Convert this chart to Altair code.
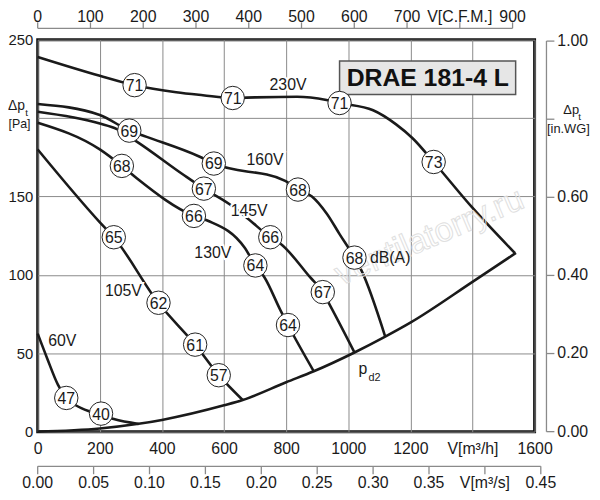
import altair as alt
import pandas as pd

# ---------------- data ----------------
# fan curves: flow V [m3/h] vs total pressure dp_t [Pa]
V230 = [0, 200, 312, 446, 532, 628, 700, 835, 930, 972, 1080, 1154, 1208, 1275, 1399, 1536]
P230 = [239, 227, 221, 216.5, 214.6, 212.8, 213.2, 213.6, 211.5, 209.6, 205, 196, 187, 172, 143, 114]
V160 = [0, 200, 295, 351, 520, 567, 797, 838, 883, 931, 972, 1020, 1042, 1119]
P160 = [209, 202, 192, 188, 175.5, 171, 160, 154.4, 150, 139, 126, 111, 103, 60.6]
V145 = [0, 200, 255, 319, 468, 535, 618, 676, 749, 781, 877, 918, 940, 1020]
P145 = [204, 196.5, 193, 185, 164, 155, 145, 136, 124, 120, 98.5, 89, 81, 50.5]
V130 = [0, 200, 271, 319, 503, 548, 666, 701, 730, 781, 806, 889]
P130 = [197, 180, 169.5, 161.6, 137.6, 134.5, 117.4, 106, 98.5, 77.7, 68, 38.5]
V105 = [0, 198, 245, 389, 507, 583, 660]
P105 = [180, 134, 124, 82, 55.5, 36, 20.2]
V60 = [0, 30, 65, 92, 124, 166, 204, 245, 325]
P60 = [62.5, 47, 30, 21.5, 16.7, 13, 10.8, 8, 4.9]
# dynamic pressure curve p_d2
VPD = [0, 200, 325, 400, 600, 660, 800, 889, 1020, 1119, 1200, 1400, 1540]
PPD = [0, 2, 5, 7.5, 16.8, 20.2, 31.5, 38.5, 50.5, 60.6, 69.5, 95.5, 114]

# sound level markers dB(A)
DB_V = [312, 628, 972, 1275, 295, 567, 838, 1020, 535, 749, 918, 271, 503, 701, 806, 245, 389, 507, 583, 92, 204]
DB_P = [221, 212.8, 209.6, 172, 192, 171, 154.4, 111, 155, 124, 89, 169.5, 137.6, 106, 68, 124, 82.2, 55.5, 36, 21.5, 11.5]
DB_T = ["71", "71", "71", "73", "69", "69", "68", "68", "67", "66", "67", "68", "66", "64", "64",
        "65", "62", "61", "57", "47", "40"]

# voltage labels
VOLT_T = ["230V", "160V", "145V", "130V", "105V", "60V"]
VOLT_V = [806, 732, 681, 564, 276, 79]
VOLT_P = [221, 173, 141, 114, 89.5, 58]

# axes
X_TICKS = [0, 200, 400, 600, 800, 1000, 1200, 1400, 1600]
Y_TICKS = [0, 50, 100, 150, 200, 250]
CFM_TICKS = [0, 100, 200, 300, 400, 500, 600, 700, 800, 900]
CFM_LABELS = ["0", "100", "200", "300", "400", "500", "600", "700", "V[C.F.M.]", "900"]
M3S_TICKS = [0, 0.05, 0.10, 0.15, 0.20, 0.25, 0.30, 0.35, 0.40, 0.45]
M3S_LABELS = ["0.00", "0.05", "0.10", "0.15", "0.20", "0.25", "0.30", "0.35", "V[m³/s]", "0.45"]
INWG_TICKS = [0, 0.2, 0.4, 0.6, 0.8, 1.0]
INWG_LABELS = ["0.00", "0.20", "0.40", "0.60", "", "1.00"]

CFM_TO_M3H = 1.69901
M3S_TO_M3H = 3600.0
INWG_TO_PA = 249.089

FONT = "Liberation Sans"
INK = "#1a1a1a"
AX_GRAY = "#8a8a8a"

# ---------------- tables ----------------
curves = []
for name, vs, ps in [("230V", V230, P230), ("160V", V160, P160), ("145V", V145, P145),
                     ("130V", V130, P130), ("105V", V105, P105), ("60V", V60, P60),
                     ("pd2", VPD, PPD)]:
    for v, p in zip(vs, ps):
        curves.append({"curve": name, "V": v, "P": p})
curves = pd.DataFrame(curves)
dbdf = pd.DataFrame({"V": DB_V, "P": DB_P, "t": DB_T})
voltdf = pd.DataFrame({"V": VOLT_V, "P": VOLT_P, "t": VOLT_T})
cfmdf = pd.DataFrame({"V": [c * CFM_TO_M3H for c in CFM_TICKS], "t": CFM_LABELS})
m3sdf = pd.DataFrame({"V": [m * M3S_TO_M3H for m in M3S_TICKS], "t": M3S_LABELS})
inwgdf = pd.DataFrame({"P": [w * INWG_TO_PA for w in INWG_TICKS], "t": INWG_LABELS})

xs = alt.Scale(domain=[0, 1600], nice=False, zero=False)
ys = alt.Scale(domain=[0, 250], nice=False, zero=False)
xaxis = alt.Axis(values=X_TICKS, title=None, grid=True, gridColor=AX_GRAY, gridWidth=1,
                 domain=False, ticks=False, labelFontSize=16, labelFont=FONT, labelColor=INK,
                 labelPadding=9, labelFlush=False, labelOverlap=False, format="d",
                 labelExpr="datum.value == 1400 ? 'V[m³/h]' : datum.label")
yaxis = alt.Axis(values=Y_TICKS, title=None, grid=True, gridColor=AX_GRAY, gridWidth=1,
                 domain=False, ticks=False, labelFontSize=15, labelFont=FONT, labelColor=INK,
                 labelPadding=5, labelFlush=False, labelOverlap=False, format="d",
                 labelExpr="datum.value == 200 ? '' : datum.label")
X = alt.X("V:Q", scale=xs, axis=xaxis)
Y = alt.Y("P:Q", scale=ys, axis=yaxis)

base_curves = alt.Chart(curves).mark_line(color=INK, strokeWidth=2.6, interpolate="monotone").encode(
    x=X, y=Y, detail="curve:N", order="V:Q")

watermark = alt.Chart(pd.DataFrame({"V": [1262], "P": [124], "t": ["ventilatorry.ru"]})).mark_text(
    font=FONT, fontSize=34, angle=337, fill="#ffffff", fillOpacity=0, stroke="#e0e0e0",
    strokeWidth=1).encode(x=X, y=Y, text="t:N")

box = alt.Chart(pd.DataFrame({"V": [972], "V2": [1539], "P": [236.4], "P2": [215]})).mark_rect(
    fill="#e6e6e6", stroke="#555555", strokeWidth=1.5).encode(
    x=X, x2="V2:Q", y=Y, y2="P2:Q")
box_text = alt.Chart(pd.DataFrame({"V": [1256], "P": [225.6], "t": ["DRAE 181-4 L"]})).mark_text(
    font=FONT, fontSize=25, fontWeight="bold", color="#111111", baseline="middle").encode(
    x=X, y=Y, text="t:N")

circles = alt.Chart(dbdf).mark_point(shape="circle", filled=True, fill="white", stroke="#222222",
                                     strokeWidth=1, size=560, opacity=1).encode(x=X, y=Y)
circle_text = alt.Chart(dbdf).mark_text(font=FONT, fontSize=16, color=INK, baseline="middle",
                                        dy=1).encode(x=X, y=Y, text="t:N")

volt_halo = alt.Chart(voltdf).mark_text(font=FONT, fontSize=16, color="white", stroke="white",
                                        strokeWidth=4, baseline="middle").encode(x=X, y=Y, text="t:N")
volt_text = alt.Chart(voltdf).mark_text(font=FONT, fontSize=16, color=INK, baseline="middle").encode(
    x=X, y=Y, text="t:N")

sub = pd.DataFrame({"V": [1033, 1065], "P": [36.9, 32.5], "t": ["p", "d2"], "fs": [16, 11]})
sub_text = alt.Chart(sub).mark_text(font=FONT, color=INK, align="left", baseline="alphabetic").encode(
    x=X, y=Y, text="t:N", size=alt.Size("fs:Q", scale=None, legend=None))
dba_text = alt.Chart(pd.DataFrame({"V": [1135], "P": [110.6], "t": ["dB(A)"]})).mark_text(
    font=FONT, fontSize=16, color=INK, baseline="middle").encode(x=X, y=Y, text="t:N")

# ---- top axis (C.F.M.) ----
TOP_Y = -11.5
top_dom = alt.Chart(pd.DataFrame({"V": [0], "V2": [900 * CFM_TO_M3H]})).mark_rule(
    color=AX_GRAY, strokeWidth=1.3).encode(x=X, x2="V2:Q", y=alt.value(TOP_Y))
top_ticks = alt.Chart(cfmdf).mark_rule(color=AX_GRAY, strokeWidth=1.3).encode(
    x=X, y=alt.value(TOP_Y), y2=alt.value(TOP_Y - 6))
top_lab = alt.Chart(cfmdf).mark_text(font=FONT, fontSize=16, color=INK, baseline="middle").encode(
    x=X, y=alt.value(-23), text="t:N")

# ---- second bottom axis (m3/s) ----
BOT_Y = 431
bot_dom = alt.Chart(pd.DataFrame({"V": [0], "V2": [0.45 * M3S_TO_M3H]})).mark_rule(
    color=AX_GRAY, strokeWidth=1.3).encode(x=X, x2="V2:Q", y=alt.value(BOT_Y))
bot_ticks = alt.Chart(m3sdf).mark_rule(color=AX_GRAY, strokeWidth=1.3).encode(
    x=X, y=alt.value(BOT_Y), y2=alt.value(BOT_Y + 8))
bot_lab = alt.Chart(m3sdf).mark_text(font=FONT, fontSize=16, color=INK, baseline="middle").encode(
    x=X, y=alt.value(447.5), text="t:N")

# ---- right axis (in.WG) ----
RX = 514
r_dom = alt.Chart(pd.DataFrame({"P": [0], "P2": [1.0 * INWG_TO_PA]})).mark_rule(
    color=AX_GRAY, strokeWidth=1.3).encode(x=alt.value(RX), y=Y, y2="P2:Q")
r_ticks = alt.Chart(inwgdf).mark_rule(color=AX_GRAY, strokeWidth=1.3).encode(
    x=alt.value(RX), x2=alt.value(RX + 8), y=Y)
r_lab = alt.Chart(inwgdf).mark_text(font=FONT, fontSize=16, color=INK, align="left",
                                    baseline="middle").encode(x=alt.value(RX + 11), y=Y, text="t:N")

# ---- pressure axis titles (pixel placed) ----
ttl = pd.DataFrame({
    "t": ["Δp", "t", "[Pa]", "Δp", "t", "[in.WG]"],
    "x": [-30, -12.5, -29.5, 531, 546, 514.5],
    "y": [71.5, 77.5, 89.5, 75.5, 81.5, 94.5],
    "fs": [14, 10, 12.5, 13, 10, 13],
})
titles = alt.Chart(ttl).mark_text(font=FONT, color=INK, align="left", baseline="alphabetic").encode(
    x=alt.X("x:Q", scale=None, axis=None), y=alt.Y("y:Q", scale=None, axis=None), text="t:N",
    size=alt.Size("fs:Q", scale=None, legend=None))

chart = alt.layer(
    base_curves, watermark, box, box_text, circles, circle_text, volt_halo, volt_text,
    sub_text, dba_text, top_dom, top_ticks, top_lab, bot_dom, bot_ticks, bot_lab,
    r_dom, r_ticks, r_lab, titles,
).properties(
    width=502, height=396,
    background="white",
    autosize=alt.AutoSizeParams(type="none"),
    padding={"left": 30, "top": 29.5, "right": 58, "bottom": 62},
).configure_view(stroke="#111111", strokeWidth=3)

chart.save("out.html", embed_options={"renderer": "svg", "actions": False})
